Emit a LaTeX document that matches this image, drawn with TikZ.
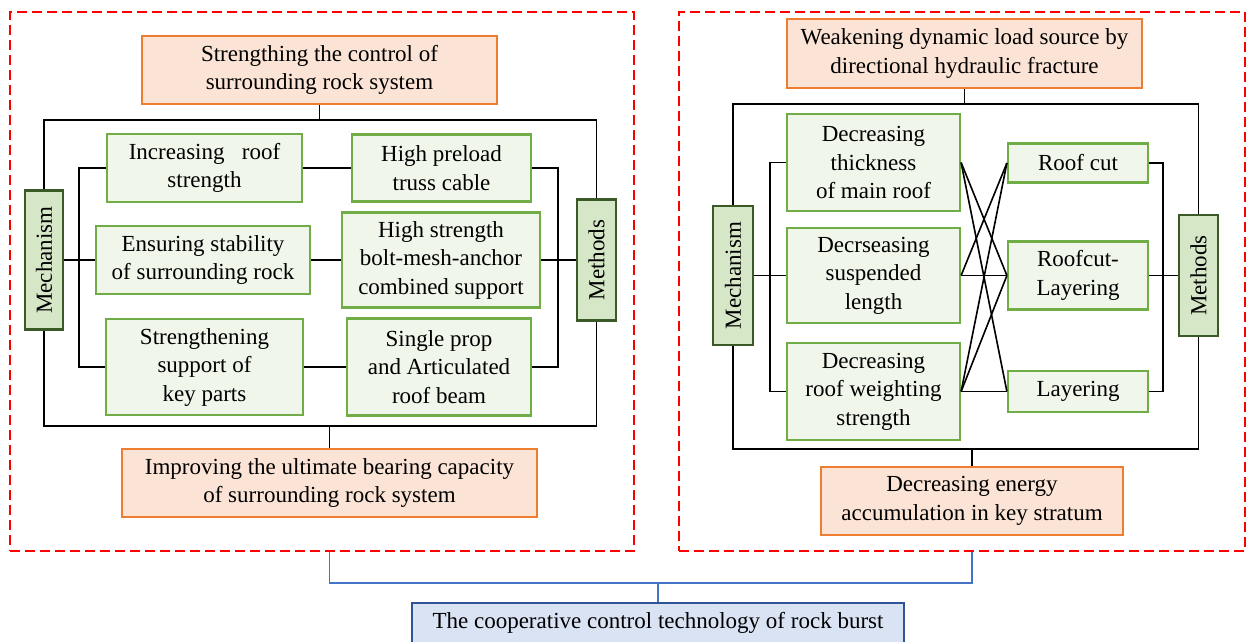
\documentclass[tikz,border=0pt]{standalone}
\usepackage{fontspec}
\setmainfont{Liberation Serif}
\usepackage{graphicx}
\definecolor{orangeB}{HTML}{ED7D31}
\definecolor{orangeF}{HTML}{FBE4D6}
\definecolor{greenB}{HTML}{70AD47}
\definecolor{greenF}{HTML}{F0F6EA}
\definecolor{dgreenB}{HTML}{3B5A28}
\definecolor{dgreenF}{HTML}{D6E7C8}
\definecolor{blueB}{HTML}{2F5597}
\definecolor{blueF}{HTML}{DAE3F3}
\definecolor{blueL}{HTML}{4472C4}
\definecolor{redD}{HTML}{FF0000}
\begin{document}
\begin{tikzpicture}[x=1pt,y=-1pt,
  font=\fontsize{23}{28.5}\selectfont,
  box/.style={draw, line width=2.2pt, inner sep=0pt, align=center, text=black},
  orangebox/.style={box, draw=orangeB, fill=orangeF},
  greenbox/.style={box, draw=greenB, fill=greenF},
  sidebox/.style={box, draw=dgreenB, fill=dgreenF},
  bluebox/.style={box, draw=blueB, fill=blueF},
  link/.style={draw=black, line width=1.6pt},
  blink/.style={draw=blueL, line width=1.5pt},
  panel/.style={draw=redD, dash pattern=on 10pt off 5pt, line width=1.6pt, inner sep=0pt}]
\useasboundingbox (0,0) rectangle (1247,641);

% panels
\node[panel, minimum width=624, minimum height=539] (lpanel) at (322,281.5) {};
\node[panel, minimum width=566, minimum height=539] (rpanel) at (962,281.5) {};

% ---------- left panel ----------
\node[orangebox, minimum width=355, minimum height=68] (ltop) at (319.5,70) {Strengthing the control of\\surrounding rock system};
\node[orangebox, minimum width=415, minimum height=68] (lbot) at (329.5,483) {Improving the ultimate bearing capacity\\of surrounding rock system};
\node[sidebox, minimum width=38, minimum height=139] (lmech) at (44,260) {\rotatebox{90}{Mechanism}};
\node[sidebox, minimum width=39, minimum height=121] (lmeth) at (596.5,260) {\rotatebox{90}{Methods}};
\node[greenbox, minimum width=195, minimum height=68] (l1) at (204.5,168) {Increasing\ \ \ roof\\strength};
\node[greenbox, minimum width=214, minimum height=68] (l2) at (203,260) {Ensuring stability\\of surrounding rock};
\node[greenbox, minimum width=197, minimum height=96] (l3) at (204.5,367) {Strengthening\\support of\\key parts};
\node[greenbox, minimum width=179, minimum height=67] (r1) at (441.5,168) {High preload\\truss cable};
\node[greenbox, minimum width=198, minimum height=95] (r2) at (441,260) {High strength\\bolt-mesh-anchor\\combined support};
\node[greenbox, minimum width=184, minimum height=97] (r3) at (439,367) {Single prop\\and Articulated\\roof beam};

\coordinate (ltb) at (319.5,120);
\coordinate (lbb) at (329.5,426);
\coordinate (lbx) at (79,0);
\coordinate (lrx) at (558,0);

\draw[link] (ltop.south) -- (ltb);
\draw[link] (lmech.north) |- (ltb) -| (lmeth.north);
\draw[link] (lbot.north) -- (lbb);
\draw[link] (lmech.south) |- (lbb) -| (lmeth.south);
\draw[link] (l1.west) -| (lbx |- l3.west) -- (l3.west);
\draw[link] (lmech.east) -- (l2.west);
\draw[link] (r1.east) -| (lrx |- r3.east) -- (r3.east);
\draw[link] (r2.east) -- (lmeth.west);
\draw[link] (l1.east) -- (r1.west);
\draw[link] (l2.east) -- (r2.west);
\draw[link] (l3.east) -- (r3.west);

% ---------- right panel ----------
\node[orangebox, minimum width=355, minimum height=69] (rtop) at (964.5,53.5) {Weakening dynamic load source by\\directional hydraulic fracture};
\node[orangebox, minimum width=302, minimum height=68] (rbot) at (972,501) {Decreasing energy\\accumulation in key stratum};
\node[sidebox, minimum width=40, minimum height=139] (rmech) at (733,275.5) {\rotatebox{90}{Mechanism}};
\node[sidebox, minimum width=39, minimum height=121] (rmeth) at (1198.5,275.5) {\rotatebox{90}{Methods}};
\node[greenbox, minimum width=173, minimum height=97] (a1) at (873.5,162.5) {Decreasing\\thickness\\of main roof};
\node[greenbox, minimum width=173, minimum height=95] (a2) at (873.5,275.5) {Decrseasing\\suspended\\length};
\node[greenbox, minimum width=173, minimum height=97] (a3) at (873.5,391.5) {Decreasing\\roof weighting\\strength};
\node[greenbox, minimum width=140, minimum height=39] (b1) at (1078,163) {Roof cut};
\node[greenbox, minimum width=140, minimum height=68] (b2) at (1078,275.5) {Roofcut-\\Layering};
\node[greenbox, minimum width=140, minimum height=41] (b3) at (1078,391.5) {Layering};

\coordinate (rtb) at (964.5,104);
\coordinate (rbb) at (972,449);
\coordinate (rlx) at (770,0);
\coordinate (rrx) at (1163,0);

\draw[link] (rtop.south) -- (rtb);
\draw[link] (rmech.north) |- (rtb) -| (rmeth.north);
\draw[link] (rbot.north) -- (rbb);
\draw[link] (rmech.south) |- (rbb) -| (rmeth.south);
\draw[link] (a1.west) -| (rlx |- a3.west) -- (a3.west);
\draw[link] (rmech.east) -- (a2.west);
\draw[link] (b1.east) -| (rrx |- b3.east) -- (b3.east);
\draw[link] (b2.east) -- (rmeth.west);
\draw[link] (a1.east) -- (b2.west);
\draw[link] (a1.east) -- (b3.west);
\draw[link] (a2.east) -- (b1.west);
\draw[link] (a2.east) -- (b2.west);
\draw[link] (a3.east) -- (b1.west);
\draw[link] (a3.east) -- (b2.west);
\draw[link] (a3.east) -- (b3.west);

% ---------- bottom ----------
\node[bluebox, minimum width=492, minimum height=40] (bl) at (658,623) {The cooperative control technology of rock burst};
\coordinate (bb) at (658,583);
\draw[blink] (lbot |- lpanel.south) |- (bb) -| (rbot |- rpanel.south);
\draw[blink] (bb) -- (bl.north);
\end{tikzpicture}
\end{document}
